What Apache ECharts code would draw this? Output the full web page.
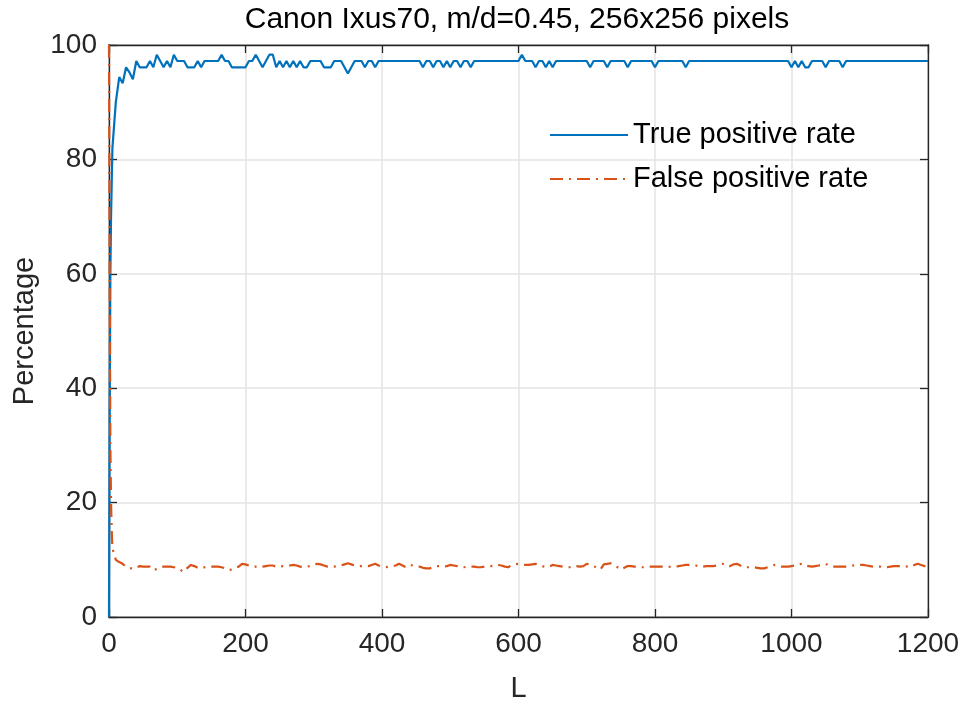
<!DOCTYPE html>
<html>
<head>
<meta charset="utf-8">
<script src="https://cdn.jsdelivr.net/npm/echarts@6/dist/echarts.min.js"></script>
<style>
  html, body { margin: 0; padding: 0; background: #fff; }
  #chart { width: 968px; height: 704px; }
</style>
</head>
<body>
<div id="chart"></div>
<script>
// Detection rates versus L (Canon Ixus70, m/d = 0.45, 256x256 blocks)

// First few L values, then every 5 up to 1200
const startL = [0, 1, 2, 3, 4];
const stepL = 5;
const L = startL.concat(Array.from({ length: 240 }, (_, i) => stepL * (i + 1)));

// True positive rate (%) at L = 0..4, then L = 5, 10, ..., 1200
const truePositiveStart = [0, 35, 60, 70, 76];
const truePositive = [
  82.0, 90.0, 94.4, 93.3, 96.1, 95.2, 94.0, 97.2, 96.1, 96.1, 96.1, 97.2, 96.1, 98.3, 97.2, 96.1, 97.2, 96.1, 98.3, 97.2,
  97.2, 97.2, 96.1, 96.1, 96.1, 97.2, 96.1, 97.2, 97.2, 97.2, 97.2, 97.2, 98.3, 97.2, 97.2, 96.1, 96.1, 96.1, 96.1, 96.1,
  97.2, 97.2, 98.3, 97.2, 96.1, 97.2, 98.3, 98.3, 96.1, 97.2, 96.1, 97.2, 96.1, 97.2, 96.1, 97.2, 96.1, 96.1, 97.2, 97.2,
  97.2, 97.2, 96.1, 96.1, 96.1, 97.2, 97.2, 97.2, 96.1, 95.0, 96.1, 97.2, 97.2, 97.2, 96.1, 97.2, 97.2, 96.1, 97.2, 97.2,
  97.2, 97.2, 97.2, 97.2, 97.2, 97.2, 97.2, 97.2, 97.2, 97.2, 97.2, 96.1, 97.2, 97.2, 96.1, 97.2, 97.2, 96.1, 97.2, 96.1,
  97.2, 97.2, 96.1, 97.2, 97.2, 96.1, 97.2, 97.2, 97.2, 97.2, 97.2, 97.2, 97.2, 97.2, 97.2, 97.2, 97.2, 97.2, 97.2, 97.2,
  98.3, 97.2, 97.2, 97.2, 96.1, 97.2, 97.2, 96.1, 97.2, 96.1, 97.2, 97.2, 97.2, 97.2, 97.2, 97.2, 97.2, 97.2, 97.2, 97.2,
  96.1, 97.2, 97.2, 97.2, 97.2, 96.1, 97.2, 97.2, 97.2, 97.2, 97.2, 96.1, 97.2, 97.2, 97.2, 97.2, 97.2, 97.2, 97.2, 96.1,
  97.2, 97.2, 97.2, 97.2, 97.2, 97.2, 97.2, 97.2, 96.1, 97.2, 97.2, 97.2, 97.2, 97.2, 97.2, 97.2, 97.2, 97.2, 97.2, 97.2,
  97.2, 97.2, 97.2, 97.2, 97.2, 97.2, 97.2, 97.2, 97.2, 97.2, 97.2, 97.2, 97.2, 97.2, 97.2, 97.2, 97.2, 97.2, 97.2, 96.1,
  97.2, 96.1, 97.2, 96.1, 96.1, 97.2, 97.2, 97.2, 97.2, 96.1, 97.2, 97.2, 97.2, 97.2, 96.1, 97.2, 97.2, 97.2, 97.2, 97.2,
  97.2, 97.2, 97.2, 97.2, 97.2, 97.2, 97.2, 97.2, 97.2, 97.2, 97.2, 97.2, 97.2, 97.2, 97.2, 97.2, 97.2, 97.2, 97.2, 97.2
];

// False positive rate (%) at L = 0..4, then L = 5, 10, ..., 1200
const falsePositiveStart = [100, 60, 30, 20, 15];
const falsePositive = [
  12.0, 10.0, 9.6, 9.3, 8.8, 8.6, 8.4, 8.6, 8.9, 8.8, 8.8, 8.8, 8.2, 8.4, 8.7, 8.8, 8.8, 8.8, 8.7, 8.6,
  8.2, 7.9, 8.6, 9.1, 8.9, 8.6, 8.5, 8.7, 8.8, 8.8, 8.8, 8.8, 8.7, 8.5, 8.2, 8.3, 8.6, 8.8, 9.3, 9.2,
  9.0, 8.8, 8.8, 8.7, 8.8, 8.9, 9.0, 9.0, 8.8, 8.8, 8.9, 8.9, 9.0, 9.1, 9.0, 8.8, 8.7, 8.8, 8.9, 9.1,
  9.3, 9.2, 9.0, 8.8, 8.7, 8.8, 8.9, 9.0, 9.2, 9.4, 9.2, 9.0, 8.9, 8.9, 8.9, 8.9, 9.1, 9.3, 9.0, 8.8,
  8.7, 8.8, 8.9, 9.0, 9.3, 9.0, 8.7, 9.1, 9.0, 8.9, 8.8, 8.6, 8.5, 8.5, 8.7, 8.9, 8.9, 8.8, 8.9, 9.1,
  9.0, 8.9, 8.7, 8.7, 8.8, 8.8, 8.8, 8.7, 8.7, 8.8, 8.8, 8.9, 8.9, 9.1, 9.0, 8.8, 8.7, 9.1, 9.2, 9.3,
  9.2, 9.1, 9.1, 9.2, 9.3, 9.0, 8.9, 8.7, 8.8, 9.1, 9.0, 8.9, 8.8, 8.7, 8.7, 8.9, 8.9, 8.8, 8.9, 9.3,
  9.1, 8.9, 8.6, 8.3, 9.2, 9.3, 9.4, 9.2, 8.7, 8.3, 8.6, 8.9, 8.9, 8.8, 8.8, 8.7, 8.7, 8.8, 8.8, 8.8,
  8.8, 8.8, 8.8, 8.8, 8.7, 8.8, 8.9, 9.0, 9.1, 9.1, 9.1, 9.0, 8.8, 8.8, 8.9, 8.9, 8.9, 9.0, 9.2, 9.3,
  8.9, 8.9, 9.2, 9.3, 9.0, 8.7, 8.7, 8.7, 8.7, 8.6, 8.5, 8.5, 8.7, 8.9, 9.1, 9.0, 8.8, 8.8, 8.8, 8.9,
  9.0, 9.2, 9.3, 9.0, 8.9, 8.8, 8.9, 9.0, 9.2, 9.3, 9.0, 8.8, 8.8, 8.8, 8.8, 8.8, 8.9, 9.0, 9.1, 9.1,
  9.1, 9.0, 8.9, 8.8, 8.8, 8.8, 8.7, 8.7, 8.8, 8.9, 8.9, 8.9, 8.9, 8.8, 8.7, 9.1, 9.3, 9.1, 8.9, 8.9
];

const seriesNames = ['True positive rate', 'False positive rate'];
const titleText = 'Canon Ixus70, m/d=0.45, 256x256 pixels';
const xTicks = { min: 0, max: 1200, interval: 200 };
const yTicks = { min: 0, max: 100, interval: 20 };

const tpr = truePositiveStart.concat(truePositive);
const fpr = falsePositiveStart.concat(falsePositive);
const pairs = (ys) => L.map((x, i) => [x, ys[i]]);

const FONT = '"Liberation Sans", Arial, Helvetica, sans-serif';
const AXIS = '#262626';
const GRIDC = '#e3e3e3';

const tickAxis = (extra) => Object.assign({
  type: 'value',
  axisLine: { show: true, onZero: false, lineStyle: { color: AXIS, width: 1.3 } },
  axisTick: { show: true, inside: true, length: 8, lineStyle: { color: AXIS, width: 1.3 } },
  splitLine: { show: false },
  axisLabel: { show: false }
}, extra);

const chart = echarts.init(document.getElementById('chart'), null, { renderer: 'canvas' });
chart.setOption({
  animation: false,
  backgroundColor: '#fff',
  textStyle: { fontFamily: FONT },
  title: {
    text: titleText,
    left: 512,
    textAlign: 'center',
    top: 0,
    textStyle: { fontFamily: FONT, fontSize: 30, fontWeight: 'normal', color: '#000' }
  },
  legend: {
    orient: 'vertical',
    left: 544,
    top: 115,
    itemWidth: 78,
    itemHeight: 16,
    itemGap: 14,
    data: seriesNames,
    itemStyle: { opacity: 0 },
    textStyle: { fontFamily: FONT, fontSize: 29, color: '#000', lineHeight: 30 }
  },
  grid: {
    left: 109, top: 45, width: 819, height: 572,
    outerBoundsMode: 'none',
    containLabel: false,
    show: true, borderColor: AXIS, borderWidth: 1.3, backgroundColor: '#fff'
  },
  xAxis: [
    tickAxis({
      position: 'bottom',
      min: xTicks.min, max: xTicks.max, interval: xTicks.interval,
      splitLine: { show: true, lineStyle: { color: GRIDC, width: 1.5 } },
      axisLabel: { show: true, fontFamily: FONT, fontSize: 28, color: AXIS, margin: 13,
                   formatter: (v) => String(v) },
      name: 'L',
      nameLocation: 'middle',
      nameGap: 57,
      nameTextStyle: { fontFamily: FONT, fontSize: 29, color: AXIS }
    }),
    tickAxis({ position: 'top', min: xTicks.min, max: xTicks.max, interval: xTicks.interval })
  ],
  yAxis: [
    tickAxis({
      position: 'left',
      min: yTicks.min, max: yTicks.max, interval: yTicks.interval,
      splitLine: { show: true, lineStyle: { color: GRIDC, width: 1.5 } },
      axisLabel: { show: true, fontFamily: FONT, fontSize: 28, color: AXIS, margin: 12,
                   formatter: (v) => String(v) },
      name: 'Percentage',
      nameLocation: 'middle',
      nameGap: 70,
      nameTextStyle: { fontFamily: FONT, fontSize: 29, color: AXIS }
    }),
    tickAxis({ position: 'right', min: yTicks.min, max: yTicks.max, interval: yTicks.interval })
  ],
  series: [
    {
      name: seriesNames[0],
      type: 'line',
      data: pairs(tpr),
      symbol: 'none',
      showSymbol: false,
      color: '#0072BD',
      lineStyle: { color: '#0072BD', width: 2.2 },
      z: 3
    },
    {
      name: seriesNames[1],
      type: 'line',
      data: pairs(fpr),
      symbol: 'none',
      showSymbol: false,
      color: '#D95319',
      lineStyle: { color: '#D95319', width: 2.2, type: [13, 6, 2, 6] },
      z: 4
    }
  ]
});
</script>
</body>
</html>
